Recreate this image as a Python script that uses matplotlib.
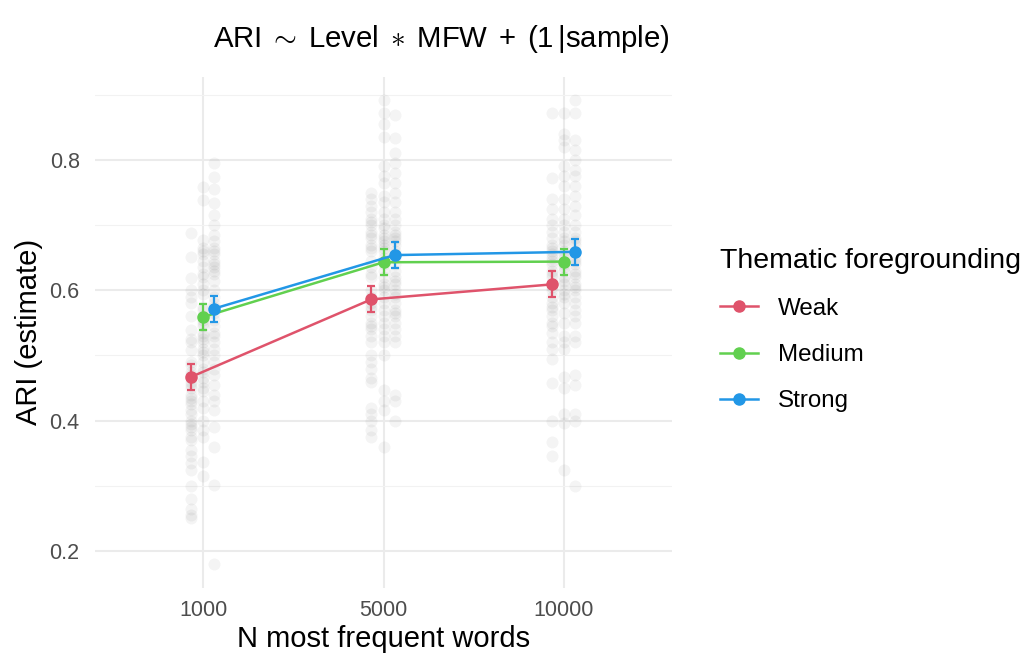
"""ARI estimates by MFW and thematic foregrounding"""
import matplotlib.pyplot as plt
import numpy as np

plt.rcParams['font.family'] = ['Liberation Sans', 'DejaVu Sans']
plt.rcParams['mathtext.fontset'] = 'custom'
plt.rcParams['mathtext.rm'] = 'Liberation Sans'
plt.rcParams['mathtext.it'] = 'Liberation Sans'

mfw_labels = ['1000', '5000', '10000']
levels = ['Weak', 'Medium', 'Strong']
colors = ['#DF536B', '#61D04F', '#2297E6']

# model estimates and standard errors (per level, across MFW)
est_weak = [0.467, 0.586, 0.609]
est_medium = [0.559, 0.643, 0.644]
est_strong = [0.572, 0.654, 0.659]
se_weak = [0.020, 0.020, 0.020]
se_medium = [0.020, 0.020, 0.020]
se_strong = [0.020, 0.020, 0.020]

raw_1000_weak = [0.688, 0.651, 0.619, 0.60, 0.59, 0.58, 0.56, 0.539, 0.525, 0.509,
                 0.49, 0.485, 0.475, 0.47, 0.46, 0.455, 0.45, 0.44, 0.435, 0.43,
                 0.417, 0.41, 0.40, 0.395, 0.385, 0.375, 0.37, 0.355, 0.345, 0.335,
                 0.325, 0.30, 0.28, 0.265, 0.255, 0.25, 0.52, 0.465, 0.425, 0.39]
raw_1000_medium = [0.759, 0.739, 0.677, 0.665, 0.655, 0.645, 0.635, 0.625, 0.62, 0.60,
                   0.595, 0.575, 0.56, 0.55, 0.545, 0.535, 0.525, 0.52, 0.51, 0.50,
                   0.49, 0.48, 0.475, 0.46, 0.45, 0.445, 0.43, 0.42, 0.40, 0.385,
                   0.375, 0.336, 0.315, 0.66, 0.57, 0.53, 0.465, 0.61, 0.505, 0.555]
raw_1000_strong = [0.795, 0.774, 0.755, 0.734, 0.715, 0.70, 0.685, 0.675, 0.665, 0.655,
                   0.645, 0.635, 0.625, 0.615, 0.60, 0.59, 0.58, 0.565, 0.555, 0.545,
                   0.535, 0.52, 0.51, 0.50, 0.49, 0.48, 0.47, 0.455, 0.44, 0.43,
                   0.417, 0.39, 0.36, 0.302, 0.18, 0.66, 0.64, 0.575, 0.53, 0.63]
raw_5000_weak = [0.75, 0.74, 0.73, 0.72, 0.71, 0.70, 0.69, 0.68, 0.67, 0.66,
                 0.645, 0.635, 0.62, 0.60, 0.59, 0.58, 0.57, 0.56, 0.55, 0.54,
                 0.53, 0.52, 0.50, 0.49, 0.48, 0.465, 0.46, 0.42, 0.41, 0.40,
                 0.385, 0.375, 0.665, 0.625, 0.575, 0.545, 0.705, 0.685]
raw_5000_medium = [0.892, 0.872, 0.855, 0.835, 0.79, 0.775, 0.765, 0.745, 0.735, 0.72,
                   0.71, 0.70, 0.695, 0.685, 0.675, 0.67, 0.66, 0.65, 0.64, 0.63,
                   0.62, 0.61, 0.60, 0.59, 0.58, 0.57, 0.56, 0.55, 0.54, 0.53,
                   0.52, 0.50, 0.447, 0.43, 0.417, 0.36, 0.68, 0.665, 0.645, 0.605]
raw_5000_strong = [0.869, 0.834, 0.81, 0.795, 0.78, 0.765, 0.75, 0.735, 0.72, 0.71,
                   0.70, 0.69, 0.68, 0.67, 0.66, 0.65, 0.64, 0.63, 0.62, 0.61,
                   0.60, 0.59, 0.58, 0.57, 0.56, 0.55, 0.54, 0.53, 0.52, 0.44,
                   0.43, 0.40, 0.685, 0.675, 0.655, 0.615, 0.595, 0.565]
raw_10000_weak = [0.872, 0.772, 0.74, 0.725, 0.71, 0.70, 0.69, 0.68, 0.67, 0.66,
                  0.65, 0.64, 0.63, 0.62, 0.61, 0.60, 0.59, 0.58, 0.57, 0.56,
                  0.55, 0.535, 0.52, 0.51, 0.495, 0.458, 0.40, 0.368, 0.345, 0.665,
                  0.645, 0.625, 0.605, 0.575, 0.545, 0.655]
raw_10000_medium = [0.872, 0.84, 0.83, 0.82, 0.79, 0.775, 0.76, 0.74, 0.725, 0.71,
                    0.70, 0.69, 0.68, 0.67, 0.66, 0.65, 0.64, 0.63, 0.62, 0.61,
                    0.60, 0.59, 0.58, 0.565, 0.55, 0.53, 0.52, 0.51, 0.467, 0.45,
                    0.41, 0.397, 0.325, 0.675, 0.655, 0.635, 0.615, 0.595]
raw_10000_strong = [0.892, 0.872, 0.83, 0.815, 0.80, 0.785, 0.775, 0.76, 0.745, 0.73,
                    0.715, 0.70, 0.69, 0.68, 0.67, 0.66, 0.65, 0.64, 0.63, 0.62,
                    0.61, 0.60, 0.59, 0.58, 0.57, 0.56, 0.55, 0.53, 0.52, 0.47,
                    0.455, 0.41, 0.40, 0.30, 0.675, 0.645, 0.625, 0.605]

estimates = [est_weak, est_medium, est_strong]
errors = [se_weak, se_medium, se_strong]
raw = [[raw_1000_weak, raw_5000_weak, raw_10000_weak],
       [raw_1000_medium, raw_5000_medium, raw_10000_medium],
       [raw_1000_strong, raw_5000_strong, raw_10000_strong]]

dodge = [-0.068, 0.0, 0.062]
xpos = np.arange(1, len(mfw_labels) + 1)

fig = plt.figure(figsize=(10.29, 6.58), dpi=100)
ax = fig.add_axes([95 / 1029, 1 - 587.5 / 658, 577 / 1029, 511 / 658])

# background raw points
for i in range(len(levels)):
    for j in range(len(mfw_labels)):
        vals = raw[i][j]
        ax.scatter(np.full(len(vals), xpos[j] + dodge[i]), vals, s=75,
                   color='black', alpha=0.045, linewidths=0, zorder=2)

# estimates with error bars
for i, lev in enumerate(levels):
    x = xpos + dodge[i]
    ax.errorbar(x, estimates[i], yerr=errors[i], fmt='none', ecolor=colors[i],
                elinewidth=1.6, capsize=3, capthick=1.6, zorder=3)
    ax.plot(x, estimates[i], color=colors[i], lw=1.8, marker='o', ms=8,
            label=lev, zorder=4)

ax.set_xlim(0.4, 3.6)
ax.set_ylim(0.144, 0.928)
ax.set_xticks(xpos)
ax.set_xticklabels(mfw_labels)
ax.set_yticks([0.2, 0.4, 0.6, 0.8])
ax.set_yticks([0.3, 0.5, 0.7, 0.9], minor=True)
ax.grid(True, which='major', color='#ebebeb', lw=1.5, zorder=0)
ax.grid(True, which='minor', axis='y', color='#f2f2f2', lw=0.8, zorder=0)
ax.set_axisbelow(True)
for s in ax.spines.values():
    s.set_visible(False)
ax.tick_params(which='both', length=0, labelsize=15.5, labelcolor='#4d4d4d')
ax.tick_params(axis='x', pad=9)
ax.tick_params(axis='y', pad=11)

ax.set_xlabel('N most frequent words', fontsize=21, labelpad=3)
ax.set_ylabel('ARI (estimate)', fontsize=21, labelpad=5)
ax.set_title(r'$\mathrm{ARI}\;\sim\;\mathrm{Level}\;\ast\;\mathrm{MFW}\;+\;\left(1\,|\mathrm{sample}\right)$',
             fontsize=21.2, pad=21, x=0.6)

leg = fig.legend(loc='upper left', bbox_to_anchor=(698 / 1029, 1 - 226 / 658),
                 title='Thematic foregrounding', frameon=False, fontsize=17.4,
                 title_fontsize=20.5, handlelength=1.6, labelspacing=1.0,
                 handletextpad=0.8)
leg._legend_box.align = 'left'

fig.savefig('out.png', dpi=100)
